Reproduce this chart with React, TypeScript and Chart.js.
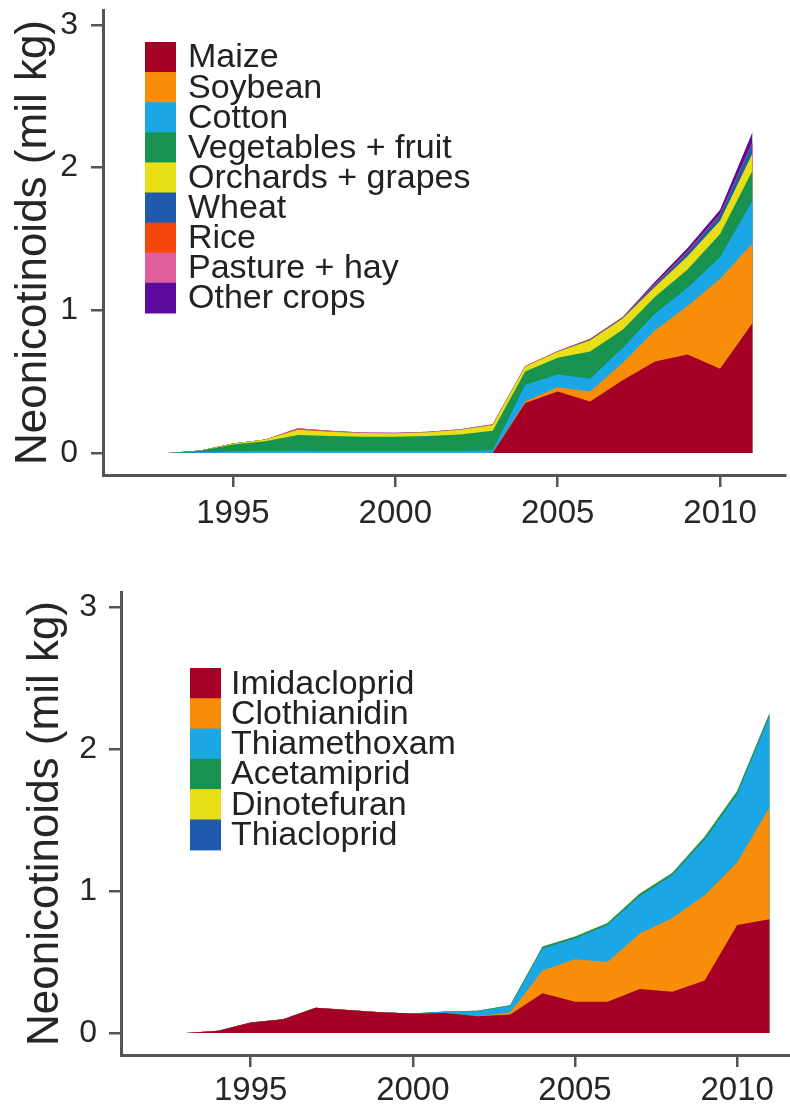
import { useEffect, useRef } from 'react';
import { Chart, registerables } from 'chart.js';

Chart.register(...registerables);

const FONT = '"Liberation Sans", Arial, Helvetica, sans-serif';
Chart.defaults.font.family = FONT;

// Survey years
const years = [
  1993, 1994, 1995, 1996, 1997, 1998, 1999, 2000, 2001, 2002,
  2003, 2004, 2005, 2006, 2007, 2008, 2009, 2010, 2011,
];
const xTickValues = [1995, 2000, 2005, 2010];
const yTickValues = [0, 1, 2, 3];

// Neonicotinoid use by crop (mil kg)
const maize = [0, 0, 0, 0, 0, 0, 0, 0, 0, 0, 0, 0.35, 0.43, 0.36, 0.51, 0.64, 0.69, 0.59, 0.91];
const soybean = [0, 0, 0, 0, 0, 0, 0, 0, 0, 0, 0, 0.01, 0.03, 0.07, 0.12, 0.22, 0.34, 0.63, 0.56];
const cotton = [0, 0.005, 0.012, 0.013, 0.015, 0.014, 0.013, 0.013, 0.013, 0.014, 0.018, 0.117, 0.09, 0.09, 0.105, 0.117, 0.128, 0.152, 0.3];
const vegetablesFruit = [0, 0.01, 0.046, 0.068, 0.11, 0.105, 0.1, 0.1, 0.105, 0.115, 0.137, 0.093, 0.117, 0.19, 0.128, 0.117, 0.128, 0.163, 0.21];
const orchardsGrapes = [0, 0.001, 0.008, 0.013, 0.038, 0.03, 0.026, 0.024, 0.027, 0.033, 0.04, 0.035, 0.042, 0.08, 0.08, 0.07, 0.093, 0.093, 0.12];
const wheat = [0, 0, 0, 0, 0, 0, 0, 0, 0, 0, 0, 0, 0, 0.005, 0.005, 0.015, 0.03, 0.04, 0.07];
const rice = [0, 0, 0, 0, 0.004, 0.002, 0.001, 0.001, 0.001, 0.001, 0.002, 0.002, 0.002, 0.002, 0.002, 0.003, 0.003, 0.003, 0.004];
const pastureHay = [0, 0, 0, 0, 0.006, 0.004, 0.003, 0.003, 0.003, 0.003, 0.003, 0.003, 0.003, 0.003, 0.003, 0.004, 0.004, 0.004, 0.005];
const otherCrops = [0, 0, 0, 0, 0, 0, 0, 0, 0, 0, 0, 0, 0, 0, 0, 0.015, 0.02, 0.03, 0.07];

// Neonicotinoid use by active ingredient (mil kg)
const imidacloprid = [0, 0.016, 0.073, 0.096, 0.178, 0.162, 0.146, 0.138, 0.14, 0.118, 0.13, 0.28, 0.22, 0.22, 0.31, 0.29, 0.37, 0.76, 0.8];
const clothianidin = [0, 0, 0, 0, 0, 0, 0, 0, 0, 0, 0.015, 0.16, 0.3, 0.28, 0.39, 0.52, 0.6, 0.44, 0.79];
const thiamethoxam = [0, 0, 0, 0, 0, 0, 0, 0, 0.01, 0.035, 0.045, 0.155, 0.145, 0.26, 0.265, 0.3, 0.39, 0.48, 0.64];
const acetamiprid = [0, 0, 0, 0, 0, 0, 0, 0, 0.002, 0.003, 0.005, 0.012, 0.012, 0.012, 0.015, 0.015, 0.02, 0.02, 0.02];
const dinotefuran = [0, 0, 0, 0, 0, 0, 0, 0, 0, 0, 0, 0.001, 0.002, 0.002, 0.002, 0.002, 0.002, 0.002, 0.002];
const thiacloprid = [0, 0, 0, 0, 0, 0, 0, 0, 0, 0, 0, 0.001, 0.001, 0.001, 0.001, 0.001, 0.001, 0.001, 0.001];

const cropLabels = [
  'Maize', 'Soybean', 'Cotton', 'Vegetables + fruit', 'Orchards + grapes',
  'Wheat', 'Rice', 'Pasture + hay', 'Other crops',
];
const cropValues = [maize, soybean, cotton, vegetablesFruit, orchardsGrapes, wheat, rice, pastureHay, otherCrops];
const cropColors = ['#A50026', '#F88D0A', '#1BA6E6', '#17924F', '#E8DF16', '#1E5AAE', '#F5470C', '#DE5E9E', '#5C0A9C'];

const compoundLabels = ['Imidacloprid', 'Clothianidin', 'Thiamethoxam', 'Acetamiprid', 'Dinotefuran', 'Thiacloprid'];
const compoundValues = [imidacloprid, clothianidin, thiamethoxam, acetamiprid, dinotefuran, thiacloprid];
const compoundColors = ['#A50026', '#F88D0A', '#1BA6E6', '#17924F', '#E8DF16', '#1E5AAE'];

const AXIS_COLOR = '#555555';
const TEXT_COLOR = '#262626';

// Legend drawn as a contiguous column of colour blocks with labels beside them
const blockLegend = {
  id: 'blockLegend',
  afterDraw(chart: any, _args: any, opts: any) {
    const { ctx } = chart;
    ctx.save();
    ctx.font = `${opts.fontSize}px ${FONT}`;
    ctx.textBaseline = 'middle';
    ctx.textAlign = 'left';
    chart.data.datasets.forEach((ds: any, i: number) => {
      const top = opts.y + i * opts.rowHeight;
      ctx.fillStyle = ds.backgroundColor;
      ctx.fillRect(opts.x, top, opts.boxWidth, opts.rowHeight + 0.6);
      ctx.fillStyle = opts.color;
      ctx.fillText(ds.label, opts.x + opts.boxWidth + opts.gap, top + opts.rowHeight / 2 + 1);
    });
    ctx.restore();
  },
};

type PanelSpec = {
  top: number;
  width: number;
  height: number;
  padTop: number;
  padRight: number;
  yAxisWidth: number;
  xAxisHeight: number;
  yLabelPadding: number;
  xLabelPadding: number;
  titlePad: number;
  labels: string[];
  values: number[][];
  colors: string[];
  legend: { x: number; y: number; rowHeight: number; boxWidth: number; gap: number; fontSize: number };
};

function buildConfig(spec: PanelSpec): any {
  return {
    type: 'line',
    data: {
      datasets: spec.labels.map((label, k) => ({
        label,
        data: years.map((yr, i) => ({ x: yr, y: spec.values[k][i] })),
        backgroundColor: spec.colors[k],
        borderColor: 'rgba(0,0,0,0)',
        borderWidth: 0,
        pointRadius: 0,
        pointHoverRadius: 0,
        tension: 0,
        fill: 'origin',
      })),
    },
    options: {
      responsive: false,
      animation: false,
      events: [],
      layout: { padding: { left: 0, top: spec.padTop, right: spec.padRight, bottom: 0 } },
      plugins: {
        legend: { display: false },
        tooltip: { enabled: false },
        blockLegend: { ...spec.legend, color: '#222222' },
      },
      scales: {
        x: {
          type: 'linear',
          min: 1991,
          max: 2012,
          afterBuildTicks: (scale: any) => {
            scale.ticks = xTickValues.map((v) => ({ value: v }));
          },
          afterFit: (scale: any) => {
            scale.height = spec.xAxisHeight;
            scale.paddingLeft = 0;
            scale.paddingRight = 0;
          },
          ticks: {
            autoSkip: false,
            maxRotation: 0,
            padding: spec.xLabelPadding,
            color: TEXT_COLOR,
            font: { size: 33 },
            callback: (v: any) => String(v),
          },
          grid: {
            drawOnChartArea: false,
            drawTicks: true,
            tickLength: 12,
            color: AXIS_COLOR,
            lineWidth: 2.5,
          },
          border: { display: true, color: AXIS_COLOR, width: 3 },
        },
        y: {
          type: 'linear',
          stacked: true,
          min: -0.155,
          max: 3.105,
          afterBuildTicks: (scale: any) => {
            scale.ticks = yTickValues.map((v) => ({ value: v }));
          },
          afterFit: (scale: any) => {
            scale.width = spec.yAxisWidth;
            scale.paddingTop = 0;
            scale.paddingBottom = 0;
          },
          ticks: {
            autoSkip: false,
            padding: spec.yLabelPadding,
            color: TEXT_COLOR,
            font: { size: 32 },
            callback: (v: any) => String(v),
          },
          grid: {
            drawOnChartArea: false,
            drawTicks: true,
            tickLength: 12,
            color: AXIS_COLOR,
            lineWidth: 2.5,
          },
          border: { display: true, color: AXIS_COLOR, width: 3 },
          title: {
            display: true,
            text: 'Neonicotinoids (mil kg)',
            color: TEXT_COLOR,
            font: { size: 44, lineHeight: 1 },
            padding: { top: spec.titlePad, bottom: 0 },
          },
        },
      },
    },
    plugins: [blockLegend],
  };
}

function AreaPanel({ spec }: { spec: PanelSpec }) {
  const ref = useRef<HTMLCanvasElement>(null);
  useEffect(() => {
    if (!ref.current) return;
    const chart = new Chart(ref.current, buildConfig(spec));
    return () => chart.destroy();
  }, [spec]);
  return (
    <canvas
      ref={ref}
      width={spec.width}
      height={spec.height}
      style={{ position: 'absolute', left: 0, top: spec.top, display: 'block' }}
    />
  );
}

const cropPanel: PanelSpec = {
  top: 0,
  width: 790,
  height: 550,
  padTop: 10,
  padRight: 5,
  yAxisWidth: 103,
  xAxisHeight: 75,
  yLabelPadding: 13,
  xLabelPadding: 7,
  titlePad: 12,
  labels: cropLabels,
  values: cropValues,
  colors: cropColors,
  legend: { x: 145, y: 42, rowHeight: 30.1, boxWidth: 31, gap: 12, fontSize: 34 },
};

const compoundPanel: PanelSpec = {
  top: 555,
  width: 802,
  height: 555,
  padTop: 37,
  padRight: 0,
  yAxisWidth: 121,
  xAxisHeight: 55,
  yLabelPadding: 12,
  xLabelPadding: 4,
  titlePad: 24,
  labels: compoundLabels,
  values: compoundValues,
  colors: compoundColors,
  legend: { x: 190, y: 113, rowHeight: 30.3, boxWidth: 31, gap: 10, fontSize: 34 },
};

export default function App() {
  return (
    <div
      style={{
        position: 'absolute',
        left: 0,
        top: 0,
        width: 790,
        height: 1110,
        overflow: 'hidden',
        background: '#ffffff',
      }}
    >
      <AreaPanel spec={cropPanel} />
      <AreaPanel spec={compoundPanel} />
    </div>
  );
}
